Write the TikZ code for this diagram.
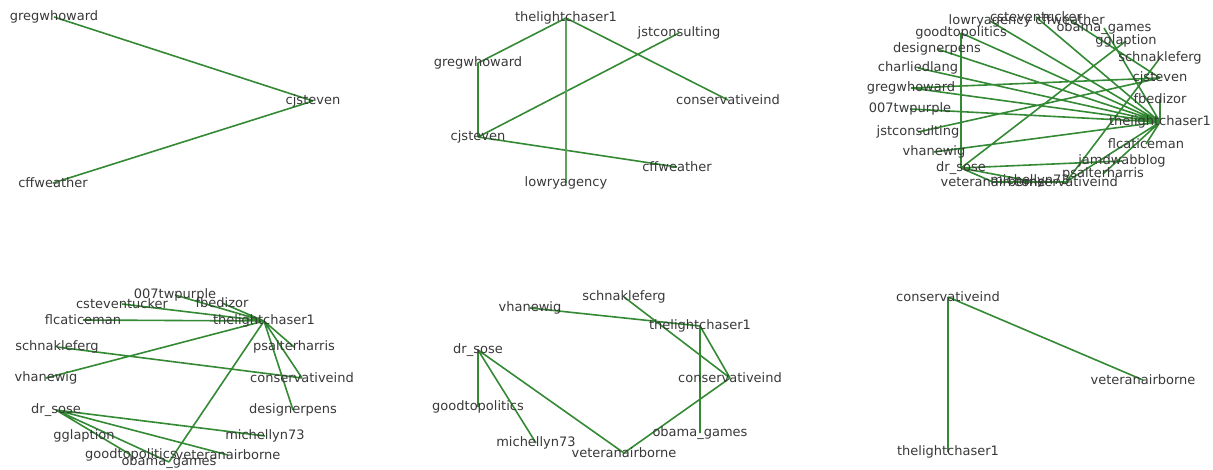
\documentclass[tikz,border=0pt]{standalone}
\usepackage{fontspec}
\setmainfont{DejaVu Sans}
\usetikzlibrary{backgrounds}
\definecolor{edgegreen}{RGB}{52,138,52}
\tikzset{lbl/.style={inner sep=0pt,text=black!78,font=\fontsize{13}{13}\selectfont},
 edge/.style={draw=edgegreen,line width=1.6pt}}
\begin{document}
\begin{tikzpicture}[x=1pt,y=-1pt]
 \useasboundingbox (0,0) rectangle (1213,470);
 % panel 1
 \node[lbl] (agw) at (54,17) {gregwhoward}; \node[lbl] (acj) at (313,101) {cjsteven};
 \node[lbl] (acf) at (53,183) {cffweather};
 % panel 2
 \node[lbl] (btl) at (566,18) {thelightchaser1}; \node[lbl] (bjs) at (679,33) {jstconsulting};
 \node[lbl] (bgw) at (478,63) {gregwhoward}; \node[lbl] (bcv) at (728,100) {conservativeind};
 \node[lbl] (bcj) at (478,137) {cjsteven}; \node[lbl] (bcf) at (677,167) {cffweather};
 \node[lbl] (blw) at (566,183) {lowryagency};
 % panel 3
 \node[lbl] (clw) at (990,21) {lowryagency}; \node[lbl] (cst) at (1036,17) {csteventucker};
 \node[lbl] (ccf) at (1070,20) {cffweather}; \node[lbl] (cob) at (1104,28) {obama\_games};
 \node[lbl] (cgg) at (1126,41) {gglaption}; \node[lbl] (csc) at (1160,58) {schnakleferg};
 \node[lbl] (ccj) at (1160,78) {cjsteven}; \node[lbl] (cfb) at (1160,99) {fbedizor};
 \node[lbl] (ctl) at (1160,122) {thelightchaser1}; \node[lbl] (cfl) at (1146,144) {flcaticeman};
 \node[lbl] (cjb) at (1122,161) {jamdwabblog}; \node[lbl] (cps) at (1103,174) {psalterharris};
 \node[lbl] (ccv) at (1066,182) {conservativeind}; \node[lbl] (cmi) at (1030,181) {michellyn73};
 \node[lbl] (cve) at (993,182) {veteranairborne}; \node[lbl] (cdr) at (961,168) {dr\_sose};
 \node[lbl] (cvh) at (934,152) {vhanewig}; \node[lbl] (cjs) at (918,132) {jstconsulting};
 \node[lbl] (c07) at (910,109) {007twpurple}; \node[lbl] (cgw) at (911,88) {gregwhoward};
 \node[lbl] (cch) at (918,68) {charliedlang}; \node[lbl] (cde) at (937,49) {designerpens};
 \node[lbl] (cgo) at (961,33) {goodtopolitics};
 % panel 4
 \node[lbl] (d07) at (175,295) {007twpurple}; \node[lbl] (dst) at (122,304) {csteventucker};
 \node[lbl] (dfb) at (222,303) {fbedizor}; \node[lbl] (dfl) at (83,320) {flcaticeman};
 \node[lbl] (dtl) at (264,321) {thelightchaser1}; \node[lbl] (dsc) at (57,347) {schnakleferg};
 \node[lbl] (dps) at (294,347) {psalterharris}; \node[lbl] (dvh) at (46,378) {vhanewig};
 \node[lbl] (dcv) at (302,378) {conservativeind}; \node[lbl] (ddr) at (56,410) {dr\_sose};
 \node[lbl] (dde) at (293,410) {designerpens}; \node[lbl] (dgg) at (84,436) {gglaption};
 \node[lbl] (dmi) at (265,436) {michellyn73}; \node[lbl] (dgo) at (131,455) {goodtopolitics};
 \node[lbl] (dve) at (228,455) {veteranairborne}; \node[lbl] (dob) at (169,462) {obama\_games};
 % panel 5
 \node[lbl] (esc) at (624,297) {schnakleferg}; \node[lbl] (evh) at (530,308) {vhanewig};
 \node[lbl] (etl) at (700,326) {thelightchaser1}; \node[lbl] (edr) at (478,350) {dr\_sose};
 \node[lbl] (ecv) at (730,378) {conservativeind}; \node[lbl] (ego) at (478,407) {goodtopolitics};
 \node[lbl] (eob) at (700,433) {obama\_games}; \node[lbl] (emi) at (536,443) {michellyn73};
 \node[lbl] (eve) at (624,453) {veteranairborne};
 % panel 6
 \node[lbl] (fcv) at (948,297) {conservativeind}; \node[lbl] (fve) at (1143,380) {veteranairborne};
 \node[lbl] (ftl) at (948,452) {thelightchaser1};
 \begin{pgfonlayer}{background}
 \draw[edge] (agw.center)--(acj.center) (acf.center)--(acj.center);
 \draw[edge] (btl.center)--(bgw.center) (btl.center)--(bcv.center) (bgw.center)--(bcj.center)
  (bcj.center)--(bjs.center) (bcj.center)--(bcf.center);
 \draw[edge,line width=2.8pt,draw=edgegreen!80] (btl.center)--(blw.center);
 \draw[edge] (ctl.center)--(cgw.center) (ctl.center)--(clw.center) (ctl.center)--(ccv.center)
  (ctl.center)--(cvh.center) (ctl.center)--(cob.center) (ctl.center)--(c07.center)
  (ctl.center)--(cst.center) (ctl.center)--(cfb.center) (ctl.center)--(cfl.center)
  (ctl.center)--(cps.center) (ctl.center)--(cde.center) (ctl.center)--(cch.center)
  (ctl.center)--(cgo.center) (ccj.center)--(cgw.center) (ccj.center)--(ccf.center)
  (ccj.center)--(cjs.center) (cdr.center)--(cgo.center) (cdr.center)--(cmi.center)
  (cdr.center)--(cve.center) (cdr.center)--(cgg.center) (cdr.center)--(cjb.center)
  (csc.center)--(ccv.center) (cve.center)--(ccv.center);
 \draw[edge] (dtl.center)--(d07.center) (dtl.center)--(dst.center) (dtl.center)--(dfb.center)
  (dtl.center)--(dfl.center) (dtl.center)--(dvh.center) (dtl.center)--(dob.center)
  (dtl.center)--(dps.center) (dtl.center)--(dcv.center) (dtl.center)--(dde.center)
  (dsc.center)--(dcv.center) (ddr.center)--(dmi.center) (ddr.center)--(dve.center)
  (ddr.center)--(dob.center) (ddr.center)--(dgo.center);
 \draw[edge] (evh.center)--(etl.center) (esc.center)--(ecv.center) (etl.center)--(ecv.center)
  (etl.center)--(eob.center) (edr.center)--(ego.center) (edr.center)--(emi.center)
  (edr.center)--(eve.center) (eve.center)--(ecv.center);
 \draw[edge] (fcv.center)--(ftl.center) (fcv.center)--(fve.center);
 \end{pgfonlayer}
\end{tikzpicture}
\end{document}
